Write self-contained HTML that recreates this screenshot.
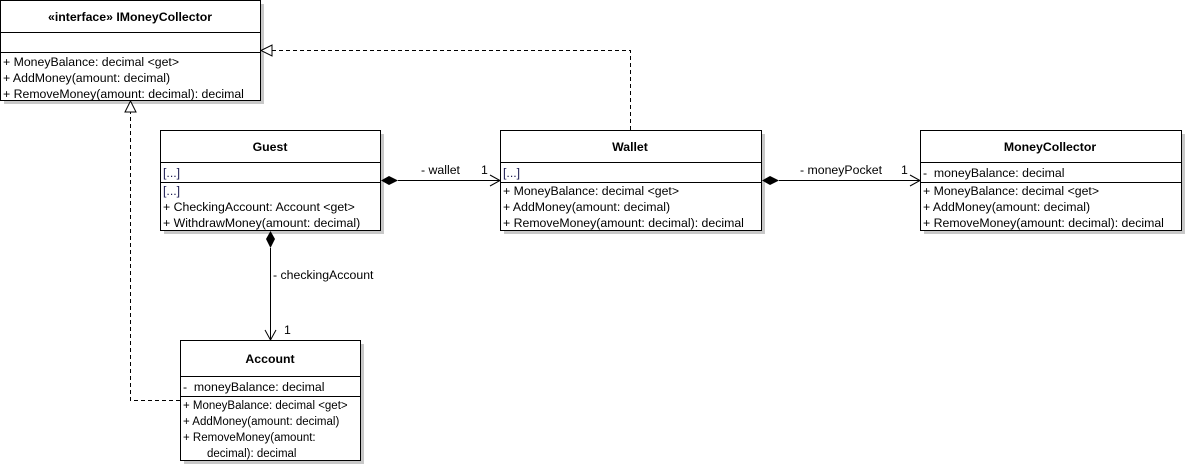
<!DOCTYPE html>
<html><head><meta charset="utf-8"><style>
html,body{margin:0;padding:0;background:#fff;}
svg{display:block;}
text{font-family:"Liberation Sans",Arial,sans-serif;font-size:12.3px;fill:#000;white-space:pre;}
.b{font-weight:bold;}
.o{fill:#1a1a50;}
</style></head><body>
<svg width="1185" height="465" viewBox="0 0 1185 465" xmlns="http://www.w3.org/2000/svg">
<g fill="#c8c8c8">
<rect x="4" y="4" width="260" height="100"/>
<rect x="164" y="134" width="220" height="100"/>
<rect x="504" y="134" width="261" height="100"/>
<rect x="924" y="134" width="261" height="100"/>
<rect x="184" y="344" width="180" height="120"/>
</g>
<g fill="#fff" stroke="#000" stroke-width="1">
<rect x="0.5" y="0.5" width="260" height="100"/>
<rect x="160.5" y="130.5" width="220" height="100"/>
<rect x="500.5" y="130.5" width="261" height="100"/>
<rect x="920.5" y="130.5" width="261" height="100"/>
<rect x="180.5" y="340.5" width="180" height="120"/>
</g>
<g stroke="#000" stroke-width="1">
<line x1="0" y1="32.5" x2="261" y2="32.5"/><line x1="0" y1="52.5" x2="261" y2="52.5"/>
<line x1="160" y1="162.5" x2="381" y2="162.5"/><line x1="160" y1="182.5" x2="381" y2="182.5"/>
<line x1="500" y1="162.5" x2="762" y2="162.5"/><line x1="500" y1="182.5" x2="762" y2="182.5"/>
<line x1="920" y1="162.5" x2="1182" y2="162.5"/><line x1="920" y1="182.5" x2="1182" y2="182.5"/>
<line x1="180" y1="376.5" x2="361" y2="376.5"/><line x1="180" y1="396.5" x2="361" y2="396.5"/>
</g>
<g stroke="#000" fill="none" stroke-dasharray="4,3">
<polyline points="630.5,130 630.5,50.5 272,50.5"/>
<polyline points="180,400.5 130.5,400.5 130.5,112"/>
</g>
<g stroke="#000" fill="#fff">
<polygon points="261,50.5 272,45 272,56"/>
<polygon points="130.5,101 125,112 136,112"/>
</g>
<g stroke="#000">
<line x1="398" y1="180.5" x2="500" y2="180.5"/>
<polyline points="490,175 500,180.5 490,186" fill="none"/>
<line x1="779" y1="180.5" x2="920" y2="180.5"/>
<polyline points="910,175 920,180.5 910,186" fill="none"/>
<line x1="270.5" y1="248" x2="270.5" y2="340"/>
<polyline points="265,330 270.5,340 276,330" fill="none"/>
</g>
<g fill="#000">
<polygon points="381,180.5 389,176 398,180.5 389,185"/>
<polygon points="762,180.5 770,176 779,180.5 770,185"/>
<polygon points="270.5,231 275,239 270.5,248 266,239"/>
</g>
<text x="421" y="174">- wallet</text><text x="481" y="174">1</text>
<text x="800" y="174">- moneyPocket</text><text x="901" y="174">1</text>
<text x="273" y="279">- checkingAccount</text><text x="284" y="334">1</text>
<text class="b" x="130" y="21" text-anchor="middle">«interface» IMoneyCollector</text>
<text x="3" y="66">+ MoneyBalance: decimal &lt;get&gt;</text>
<text x="3" y="82">+ AddMoney(amount: decimal)</text>
<text x="3" y="98">+ RemoveMoney(amount: decimal): decimal</text>
<text class="b" x="270" y="151" text-anchor="middle">Guest</text>
<text class="o" x="163" y="177">[...]</text>
<text class="o" x="163" y="195">[...]</text>
<text x="163" y="211">+ CheckingAccount: Account &lt;get&gt;</text>
<text x="163" y="227">+ WithdrawMoney(amount: decimal)</text>
<text class="b" x="630" y="151" text-anchor="middle">Wallet</text>
<text class="o" x="503" y="177">[...]</text>
<text x="503" y="195">+ MoneyBalance: decimal &lt;get&gt;</text>
<text x="503" y="211">+ AddMoney(amount: decimal)</text>
<text x="503" y="227">+ RemoveMoney(amount: decimal): decimal</text>
<text class="b" x="1050" y="151" text-anchor="middle">MoneyCollector</text>
<text x="923" y="177">-  moneyBalance: decimal</text>
<text x="923" y="195">+ MoneyBalance: decimal &lt;get&gt;</text>
<text x="923" y="211">+ AddMoney(amount: decimal)</text>
<text x="923" y="227">+ RemoveMoney(amount: decimal): decimal</text>
<text class="b" x="270" y="363" text-anchor="middle">Account</text>
<text x="183" y="391">-  moneyBalance: decimal</text>
<text x="183" y="409" style="font-size:11.5px">+ MoneyBalance: decimal &lt;get&gt;</text>
<text x="183" y="425" style="font-size:11.5px">+ AddMoney(amount: decimal)</text>
<text x="183" y="441" style="font-size:11.5px">+ RemoveMoney(amount:</text>
<text x="207" y="457" style="font-size:11.5px">decimal): decimal</text>
</svg>
</body></html>
